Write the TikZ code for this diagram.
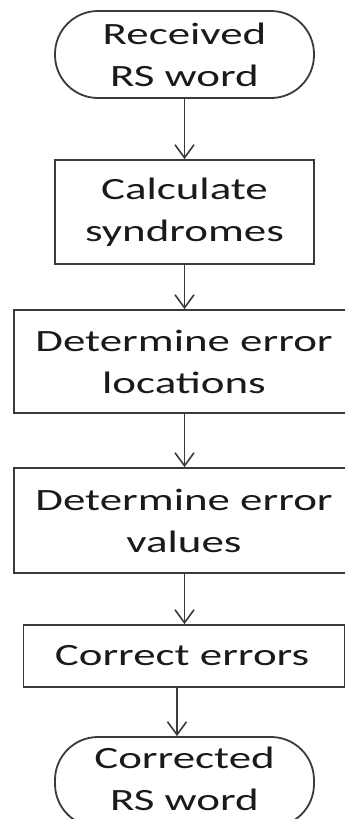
\documentclass[tikz,border=0pt]{standalone}
\usepackage{fontspec}
\setmainfont{Carlito}
\newfontfamily\widefont[FakeStretch=1.45]{Carlito}
\usetikzlibrary{arrows.meta,calc}
\definecolor{linec}{HTML}{3A3A3A}
\definecolor{txtc}{HTML}{1A1A1A}
\tikzset{
  label font/.style={text=txtc, align=center, font=\widefont\fontsize{31}{42}\selectfont},
  base/.style={draw=linec, line width=1.8pt, inner sep=0pt, label font},
  term/.style={base, rounded corners=43pt},
  procbox/.style={base},
  flow/.style={draw=linec, line width=1.6pt, -{Straight Barb[length=13pt,width=19pt,line width=1.6pt]}}
}
\begin{document}
\begin{tikzpicture}[x=1pt,y=-1pt]
\useasboundingbox (0,0) rectangle (345,819);
\clip (0,0) rectangle (345,819);
\node[term, minimum width=259pt, minimum height=87pt] (n1) at (184.5,54.5) {};
\node[label font] (t1) at (184.5,55) {Received\\RS word};
\node[procbox, minimum width=259pt, minimum height=104pt] (n2) at (184.5,212) {};
\node[label font] (t2) at (184.5,212) {Calculate\\syndromes};
\node[procbox, minimum width=341pt, minimum height=103pt] (n3) at (184.5,361.5) {};
\node[label font] (t3) at (184,361.5) {Determine error\\locations};
\node[procbox, minimum width=341pt, minimum height=105pt] (n4) at (184.5,520.5) {};
\node[label font] (t4) at (184,520.5) {Determine error\\values};
\node[procbox, minimum width=321pt, minimum height=62pt] (n5) at (184,656) {};
\node[label font] (t5) at (182,656) {Correct errors};
\node[term, minimum width=259pt, minimum height=90pt] (n6) at (184.5,782) {};
\node[label font] (t6) at (184.5,779) {Corrected\\RS word};
\draw[flow] (n1.south) -- (n2.north);
\draw[flow] (n2.south) -- (n2.south |- n3.north);
\draw[flow] (n3.south) -- (n4.north);
\draw[flow] (n4.south) -- (n4.south |- n5.north);
\draw[flow] ([xshift=-7pt]n5.south) -- ([xshift=-7pt]n5.south |- n6.north);
\end{tikzpicture}
\end{document}
